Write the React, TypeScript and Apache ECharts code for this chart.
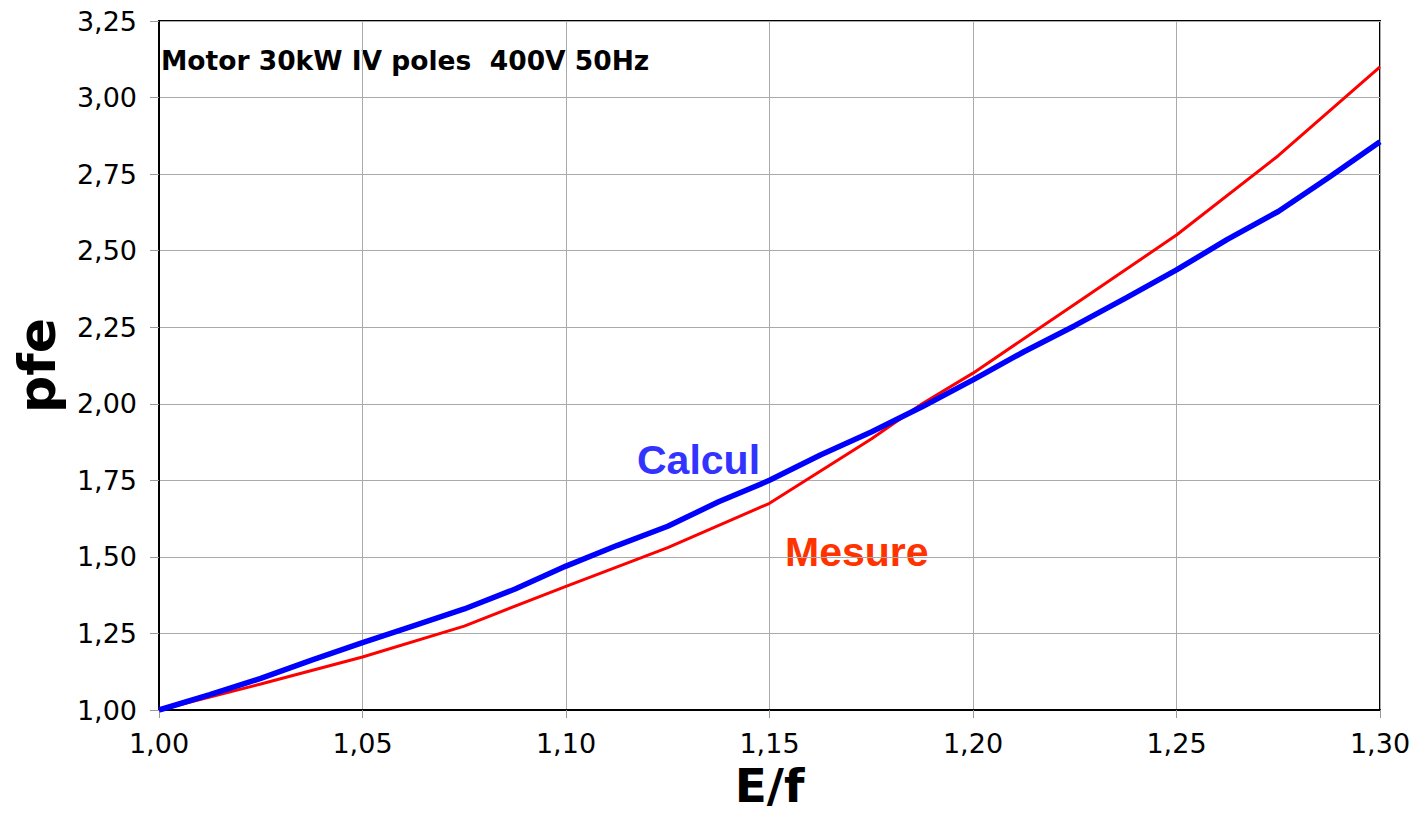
import React, { useEffect, useRef } from "react";
import * as echarts from "echarts";

const titleText = "Motor 30kW IV poles  400V 50Hz";
const xName = "E/f";
const yName = "pfe";

const calculX = [1.0, 1.0125, 1.025, 1.0375, 1.05, 1.0625, 1.075, 1.0875, 1.1, 1.1125, 1.125, 1.1375, 1.15, 1.1625, 1.175, 1.1875, 1.2, 1.2125, 1.225, 1.2375, 1.25, 1.2625, 1.275, 1.2875, 1.3];
const calculY = [1.0, 1.05, 1.103, 1.163, 1.22, 1.275, 1.33, 1.395, 1.47, 1.537, 1.6, 1.68, 1.75, 1.833, 1.908, 1.99, 2.078, 2.17, 2.255, 2.345, 2.437, 2.537, 2.628, 2.74, 2.856];

const mesureX = [1.0, 1.025, 1.05, 1.075, 1.1, 1.125, 1.15, 1.175, 1.1875, 1.2, 1.225, 1.25, 1.275, 1.3];
const mesureY = [1.0, 1.085, 1.173, 1.274, 1.404, 1.53, 1.675, 1.885, 2.0, 2.1, 2.325, 2.551, 2.81, 3.1];

const fmt = (v: number) => v.toFixed(2).replace(".", ",");

export default function App() {
  const ref = useRef<HTMLDivElement>(null);
  useEffect(() => {
    document.body.style.margin = "0";
    const chart = echarts.init(ref.current!, undefined, { renderer: "svg" });
    chart.setOption({
      animation: false,
      backgroundColor: "#ffffff",
      grid: {
        left: 159,
        right: 39,
        top: 21,
        bottom: 106,
        containLabel: false,
        outerBoundsMode: "none",
        show: true,
        borderColor: "#000000",
        borderWidth: 2,
        backgroundColor: "transparent",
      },
      xAxis: {
        type: "value",
        min: 1.0,
        max: 1.3,
        interval: 0.05,
        name: xName,
        nameLocation: "middle",
        nameGap: 53,
        nameTextStyle: { fontFamily: "DejaVu Sans", fontWeight: "bold", fontSize: 47, lineHeight: 42, color: "#000" },
        axisLine: { show: true, lineStyle: { color: "#000", width: 2 } },
        axisTick: { show: true, length: 8, lineStyle: { color: "#999", width: 1 } },
        axisLabel: { formatter: fmt, fontFamily: "DejaVu Sans", fontSize: 27, color: "#000", margin: 20 },
        splitLine: { show: true, lineStyle: { color: "#aaaaaa", width: 1 } },
      },
      yAxis: {
        type: "value",
        min: 1.0,
        max: 3.25,
        interval: 0.25,
        name: yName,
        nameLocation: "middle",
        nameGap: 96,
        nameRotate: 90,
        nameTextStyle: { fontFamily: "DejaVu Sans", fontWeight: "bold", fontSize: 52, color: "#000" },
        axisLine: { show: true, lineStyle: { color: "#000", width: 2 } },
        axisTick: { show: true, length: 9, lineStyle: { color: "#999", width: 1 } },
        axisLabel: { formatter: fmt, fontFamily: "DejaVu Sans", fontSize: 27, color: "#000", margin: 22 },
        splitLine: { show: true, lineStyle: { color: "#aaaaaa", width: 1 } },
      },
      series: [
        {
          name: "Mesure",
          type: "line",
          data: mesureX.map((x, i) => [x, mesureY[i]]),
          showSymbol: false,
          lineStyle: { color: "#ff0000", width: 3 },
          itemStyle: { color: "#ff0000" },
          z: 2,
        },
        {
          name: "Calcul",
          type: "line",
          data: calculX.map((x, i) => [x, calculY[i]]),
          showSymbol: false,
          lineStyle: { color: "#0000ff", width: 5.5 },
          itemStyle: { color: "#0000ff" },
          z: 3,
        },
      ],
      graphic: [
        {
          type: "text",
          left: 161,
          top: 47,
          style: { text: titleText, fontFamily: "DejaVu Sans", fontWeight: "bold", fontSize: 26.5, fill: "#000" },
        },
        {
          type: "text",
          left: 637,
          top: 439,
          style: { text: "Calcul", fontFamily: "Liberation Sans", fontWeight: "bold", fontSize: 41, fill: "#3333ff" },
        },
        {
          type: "text",
          left: 785,
          top: 531,
          style: { text: "Mesure", fontFamily: "Liberation Sans", fontWeight: "bold", fontSize: 41, fill: "#ff3300" },
        },
      ],
    });
    return () => chart.dispose();
  }, []);
  return <div ref={ref} style={{ width: 1419, height: 816 }} />;
}
